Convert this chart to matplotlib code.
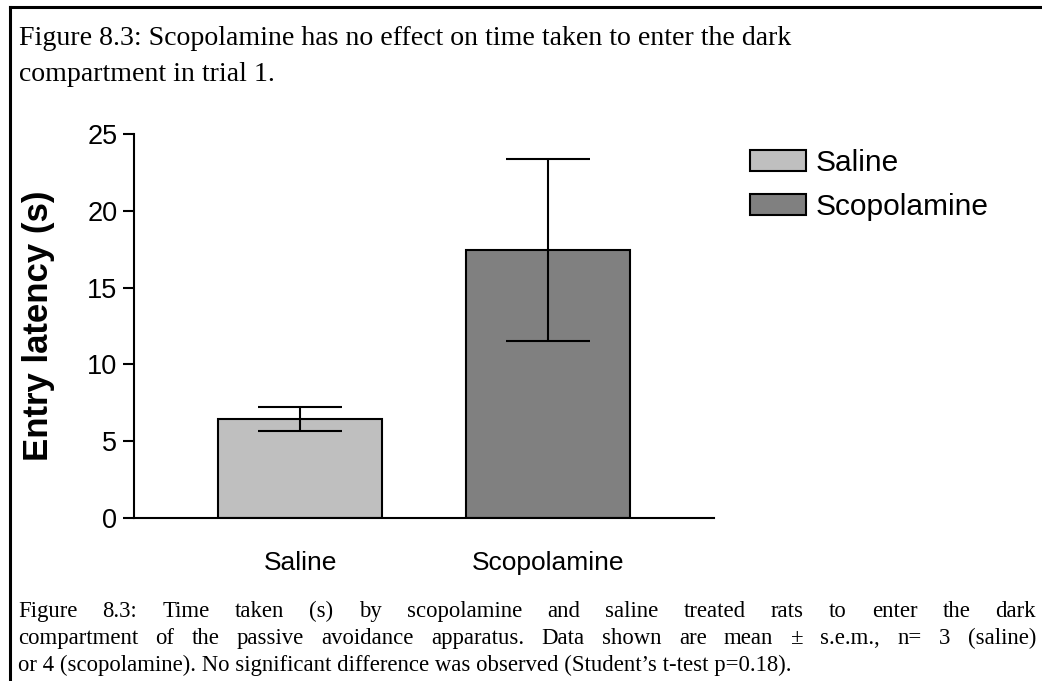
import matplotlib
matplotlib.use("Agg")
import matplotlib.pyplot as plt
from matplotlib.lines import Line2D

# ---- data ----
groups = ["Saline", "Scopolamine"]
means = [6.45, 17.45]
sems = [0.78, 5.95]
bar_colors = ["#BFBFBF", "#808080"]
yticks = [0, 5, 10, 15, 20, 25]
ylabel = "Entry latency (s)"

title_lines = [
    "Figure 8.3: Scopolamine has no effect on time taken to enter the dark",
    "compartment in trial 1.",
]
caption_lines = [
    "Figure 8.3: Time taken (s) by scopolamine and saline treated rats to enter the dark",
    "compartment of the passive avoidance apparatus. Data shown are mean \u00b1 s.e.m., n= 3 (saline)",
    "or 4 (scopolamine). No significant difference was observed (Student\u2019s t-test p=0.18).",
]

W, H = 1042, 681
DPI = 100
fig = plt.figure(figsize=(W / DPI, H / DPI), dpi=DPI)
fig.patch.set_facecolor("white")


def fx(px):
    return px / W


def fy(py):
    return 1 - py / H


SANS = ["Liberation Sans", "DejaVu Sans"]
SERIF = ["Liberation Serif", "DejaVu Serif"]

# ---- plot area ----
ax = fig.add_axes([fx(134), fy(518), fx(714) - fx(134), fy(134) - fy(518)])
x = list(range(len(groups)))
bars = ax.bar(x, means, width=0.665, color=bar_colors, edgecolor="black",
              linewidth=1.5, label=groups, zorder=2)
ax.errorbar(x, means, yerr=sems, fmt="none", ecolor="black", elinewidth=1.5,
            capsize=30, capthick=1.5, zorder=3)
ax.set_xlim(-0.67, 1.67)
ax.set_ylim(0, 25)
ax.set_yticks(yticks)
ax.set_xticks(x)
ax.set_xticklabels(groups, family=SANS, fontsize=19)
ax.set_yticklabels([str(t) for t in yticks], family=SANS, fontsize=19.5)
ax.tick_params(axis="y", length=8, width=1.5, pad=4, direction="out")
ax.tick_params(axis="x", length=0, pad=24)
for s in ["top", "right"]:
    ax.spines[s].set_visible(False)
for s in ["left", "bottom"]:
    ax.spines[s].set_linewidth(1.5)
ax.set_ylabel(ylabel, family=SANS, fontsize=25, fontweight="bold", labelpad=23)

leg = ax.legend(handles=list(bars), labels=groups, loc="upper left",
                bbox_to_anchor=(fx(750), fy(149)), bbox_transform=fig.transFigure,
                frameon=False, prop={"family": SANS, "size": 21.5},
                handlelength=1.87, handleheight=0.67, handletextpad=0.32,
                labelspacing=0.53, borderpad=0, borderaxespad=0)

# ---- border lines ----
fig.add_artist(Line2D([fx(10), fx(W)], [fy(7), fy(7)], color="black", lw=2.2,
                      transform=fig.transFigure))
fig.add_artist(Line2D([fx(10), fx(10)], [fy(7), fy(H)], color="black", lw=2.2,
                      transform=fig.transFigure))

# ---- serif texts ----
renderer = fig.canvas.get_renderer()


def text_width(s, size):
    t = fig.text(0, 0, s, family=SERIF, fontsize=size)
    w = t.get_window_extent(renderer).width
    t.remove()
    return w


def fit_size(s, target_px):
    return 10 * target_px / text_width(s, 10)


title_size = fit_size(title_lines[0], 790 - 19)
for i, line in enumerate(title_lines):
    fig.text(fx(19), fy(45 + 36 * i), line, family=SERIF, fontsize=title_size,
             va="baseline", ha="left")

cap_size = fit_size(caption_lines[2], 790 - 18)
left_px, right_px = 18, 1036
for i, line in enumerate(caption_lines):
    ybase = fy(617 + 27 * i)
    if i == len(caption_lines) - 1:
        fig.text(fx(left_px), ybase, line, family=SERIF, fontsize=cap_size,
                 va="baseline", ha="left")
        continue
    words = line.split(" ")
    widths = [text_width(w, cap_size) for w in words]
    gap = (right_px - left_px - sum(widths)) / (len(words) - 1)
    xpos = left_px
    for w, wd in zip(words, widths):
        fig.text(fx(xpos), ybase, w, family=SERIF, fontsize=cap_size,
                 va="baseline", ha="left")
        xpos += wd + gap

fig.savefig("out.png", dpi=DPI, facecolor="white")
